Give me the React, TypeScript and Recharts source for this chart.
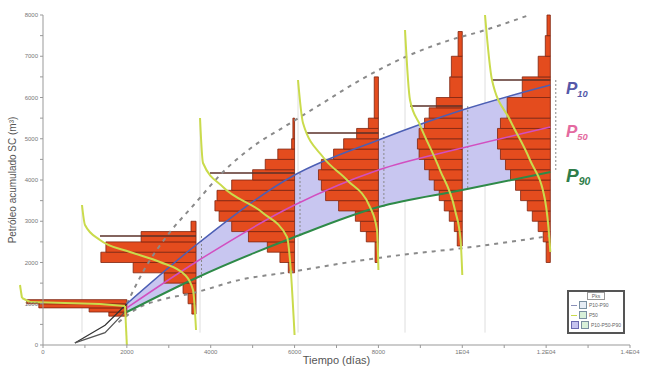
import React from "react";
import {
  Area,
  ComposedChart,
  Line,
  ReferenceArea,
  ReferenceLine,
  XAxis,
  YAxis,
} from "recharts";

// forecast times (days) and percentile values (m3)
const anchorDays = [2000, 3650, 6000, 8000, 10000, 12100];
const p10 = [1000, 2424, 4121, 4970, 5697, 6303];
const p50 = [900, 2012, 3394, 4242, 4776, 5285];
const p90 = [800, 1624, 2618, 3345, 3758, 4194];

// history before the first forecast
const historyDays = [760, 1480, 2000];
const historyHigh = [50, 480, 1000];
const historyLow = [50, 300, 850];

// outer envelopes (dashed)
const upperEnvelope = [
  [2000, 1000], [2400, 1800], [3000, 2700], [3600, 3400], [4300, 4200],
  [4900, 4730], [5900, 5380], [6600, 5820], [7560, 6420], [8750, 7030],
  [9700, 7390], [10400, 7590], [11600, 8000],
];
const lowerEnvelope = [
  [1800, 550], [2310, 920], [2790, 1090], [3580, 1260], [4700, 1580],
  [5890, 1770], [7320, 2010], [8520, 2180], [10020, 2350], [12070, 2640],
];

// histogram bins: [low, high, width in days]
const hist0 = [[700, 800, 430], [800, 900, 900], [900, 1000, 2100], [1000, 1100, 2390]];
const histA = [
  [750, 1000, 100], [1000, 1250, 190], [1250, 1500, 310], [1500, 1750, 760],
  [1750, 2000, 1500], [2000, 2250, 2270], [2250, 2500, 2150], [2500, 2750, 1310],
  [2750, 3000, 120],
];
const histB = [
  [1750, 2000, 150], [2000, 2250, 350], [2250, 2500, 650], [2500, 2750, 1100],
  [2750, 3000, 1500], [3000, 3250, 1800], [3250, 3500, 1900], [3500, 3750, 1850],
  [3750, 4000, 1500], [4000, 4250, 1000], [4250, 4500, 700], [4500, 4750, 400],
  [4750, 5000, 70], [5000, 5500, 40],
];
const histC = [
  [2000, 2500, 80], [2500, 2750, 290], [2750, 3000, 430], [3000, 3250, 550],
  [3250, 3500, 950], [3500, 3750, 1260], [3750, 4000, 1360], [4000, 4250, 1430],
  [4250, 4500, 1360], [4500, 4750, 1070], [4750, 5000, 830], [5000, 5250, 520],
  [5250, 5500, 240], [5500, 6500, 100],
];
const histD = [
  [2400, 2750, 120], [2750, 3000, 190], [3000, 3250, 310], [3250, 3500, 430],
  [3500, 3750, 550], [3750, 4000, 670], [4000, 4250, 790], [4250, 4500, 900],
  [4500, 4750, 1030], [4750, 5000, 1070], [5000, 5250, 1030], [5250, 5500, 900],
  [5500, 5750, 790], [5750, 6000, 620], [6000, 6500, 300], [6500, 7000, 260],
  [7000, 7600, 100],
];
const histE = [
  [2000, 2500, 100], [2500, 2750, 170], [2750, 3000, 290], [3000, 3250, 430],
  [3250, 3500, 550], [3500, 3750, 710], [3750, 4000, 830], [4000, 4250, 950],
  [4250, 4500, 1070], [4500, 4750, 1190], [4750, 5000, 1260], [5000, 5250, 1260],
  [5250, 5500, 1190], [5500, 6000, 1030], [6000, 6500, 670], [6500, 7000, 290],
  [7000, 7500, 120], [7500, 8000, 80],
];
const histograms = [hist0, histA, histB, histC, histD, histE];

// cumulative curves drawn beside each histogram: [days, m3]
const cdf0 = [[-549, 1454], [-501, 1139], [-310, 1042], [1359, 994], [1956, 945], [2000, 0]];
const cdfA = [[930, 3394], [1002, 2909], [1359, 2545], [2075, 2254], [2790, 2012], [3387, 1697], [3578, 1333], [3650, 364]];
const cdfB = [[3745, 5503], [3816, 4412], [4293, 3830], [5247, 3200], [5819, 2618], [5891, 2060], [6000, 242]];
const cdfC = [[6082, 6424], [6201, 5381], [6678, 4557], [7250, 4000], [7799, 3345], [7966, 2788], [8000, 1818]];
const cdfD = [[8634, 7636], [8753, 5939], [8991, 5333], [9468, 4242], [9826, 3273], [9960, 2545], [10000, 1697]];
const cdfE = [[10542, 8000], [10709, 6424], [11138, 5454], [11615, 4485], [11973, 3515], [12080, 2545], [12100, 2254]];
const cdfCurves = [cdfA, cdfB, cdfC, cdfD, cdfE];

// dark level marks on top of each histogram: [from, to, m3]
const levelMarks = [
  [1359, 3650, 2642], [3983, 6000, 4170], [6296, 8000, 5139],
  [8753, 10000, 5793], [10709, 12100, 6424],
];

const xTicks = [0, 1000, 2000, 3000, 4000, 5000, 6000, 7000, 8000, 9000, 10000, 11000, 12000, 13000, 14000];
const xLabels = { 0: "0", 2000: "2000", 4000: "4000", 6000: "6000", 8000: "8000", 10000: "1E04", 12000: "1.2E04", 14000: "1.4E04" };
const yTicks = [0, 500, 1000, 1500, 2000, 2500, 3000, 3500, 4000, 4500, 5000, 5500, 6000, 6500, 7000, 7500, 8000];

const toPoints = (pts) => pts.map(([x, y]) => ({ x, y }));
const series = (days, vals) => days.map((x, i) => ({ x, y: vals[i] }));

const bandData = anchorDays.map((x, i) => ({ x, band: [p90[i], p10[i]] }));

const BAR_FILL = "#e44c1e";
const BAR_STROKE = "#7d2410";
const CDF_COLOR = "#cadb4c";
const font = "'Liberation Sans', Arial, sans-serif";

function PLabel({ top, color, sub, size }) {
  return (
    <div
      style={{
        position: "absolute",
        left: 566,
        top,
        color,
        fontFamily: font,
        fontWeight: "bold",
        fontStyle: "italic",
        fontSize: size,
        lineHeight: 1,
      }}
    >
      P<span style={{ fontSize: size * 0.55, verticalAlign: "-0.3em" }}>{sub}</span>
    </div>
  );
}

function LegendBox() {
  const row = { display: "flex", alignItems: "center", height: 10, gap: 2, whiteSpace: "nowrap" };
  const box = (bg) => ({ width: 6, height: 6, flex: "none", border: "1px solid #7a8fa0", background: bg });
  return (
    <div
      style={{
        position: "absolute",
        left: 567,
        top: 290,
        width: 58,
        height: 44,
        border: "2px solid #555",
        background: "#fff",
        fontFamily: font,
        fontSize: 5,
        color: "#666",
        padding: "1px 2px",
        boxSizing: "border-box",
        overflow: "hidden",
      }}
    >
      <div style={{ textAlign: "center", marginBottom: 1 }}>
        <span style={{ border: "1px solid #999", padding: "0 4px" }}>Pks</span>
      </div>
      <div style={row}>
        <div style={{ width: 6, height: 1, flex: "none", background: "#8a90b8" }} />
        <div style={box("#e6ecf4")} />
        <span>P10-P90</span>
      </div>
      <div style={row}>
        <div style={{ width: 6, height: 1, flex: "none", background: CDF_COLOR }} />
        <div style={box("#d8f0d8")} />
        <span>P50</span>
      </div>
      <div style={row}>
        <div style={{ width: 6, height: 6, flex: "none", background: "#c5c3ee", border: "1px solid #6a6ab0" }} />
        <div style={box("#d8f0d8")} />
        <span>P10-P50-P90</span>
      </div>
    </div>
  );
}

export default function App() {
  return (
    <div style={{ position: "absolute", left: 0, top: 0, width: 647, height: 373, background: "#fff" }}>
      <ComposedChart width={647} height={373} margin={{ top: 15, right: 17, bottom: 0, left: 0 }}>
        <XAxis
          type="number"
          dataKey="x"
          domain={[0, 14000]}
          ticks={xTicks}
          tickFormatter={(v) => xLabels[v] || ""}
          tick={{ fontSize: 6, fill: "#777", fontFamily: font }}
          tickSize={3}
          stroke="#999"
          height={28}
          label={{ value: "Tiempo (días)", position: "insideBottom", offset: 9, style: { fontSize: 11, fill: "#555", fontFamily: font } }}
        />
        <YAxis
          type="number"
          dataKey="y"
          domain={[0, 8000]}
          ticks={yTicks}
          tickFormatter={(v) => (v % 1000 === 0 ? String(v) : "")}
          tick={{ fontSize: 6, fill: "#777", fontFamily: font }}
          tickSize={3}
          stroke="#999"
          width={43}
          label={{ value: "Petróleo acumulado SC (m³)", angle: -90, position: "insideLeft", offset: 12, style: { fontSize: 10, fill: "#555", fontFamily: font, textAnchor: "middle" } }}
        />

        {cdfCurves.map((c, i) => (
          <ReferenceLine
            key={"g" + i}
            segment={[{ x: c[0][0], y: c[0][1] }, { x: c[0][0], y: 300 }]}
            stroke="#dedede"
            strokeWidth={1}
            ifOverflow="visible"
            zIndex={40}
          />
        ))}

        <Area
          data={bandData}
          dataKey="band"
          type="monotone"
          fill="#c8c6f0"
          fillOpacity={1}
          stroke="none"
          isAnimationActive={false}
          zIndex={50}
        />

        {histograms.map((bins, h) =>
          bins.map(([lo, hi, w], i) => (
            <ReferenceArea
              key={h + "-" + i}
              x1={anchorDays[h] - w}
              x2={anchorDays[h]}
              y1={lo}
              y2={hi}
              fill={BAR_FILL}
              fillOpacity={1}
              stroke={BAR_STROKE}
              strokeWidth={0.8}
              ifOverflow="visible"
              zIndex={60}
            />
          ))
        )}

        {levelMarks.map(([a, b, y], i) => (
          <ReferenceLine
            key={"m" + i}
            segment={[{ x: a, y }, { x: b, y }]}
            stroke="#5a3028"
            strokeWidth={1.5}
            ifOverflow="visible"
            zIndex={65}
          />
        ))}

        {anchorDays.slice(1).map((x, i) => (
          <ReferenceLine
            key={"s" + i}
            segment={[{ x: x + 130, y: levelMarks[i][2] }, { x: x + 130, y: p90[i + 1] }]}
            stroke="#888"
            strokeDasharray="2 2"
            strokeWidth={1}
            ifOverflow="visible"
            zIndex={65}
          />
        ))}

        <Line data={series(historyDays, historyHigh)} dataKey="y" stroke="#333" strokeWidth={1.2} dot={false} activeDot={false} isAnimationActive={false} zIndex={70} />
        <Line data={series(historyDays, historyLow)} dataKey="y" stroke="#555" strokeWidth={1.2} dot={false} activeDot={false} isAnimationActive={false} zIndex={70} />

        <Line data={toPoints(upperEnvelope)} dataKey="y" type="monotone" stroke="#8a8a8a" strokeWidth={2} strokeDasharray="4 5" dot={false} activeDot={false} isAnimationActive={false} zIndex={70} />
        <Line data={toPoints(lowerEnvelope)} dataKey="y" type="monotone" stroke="#8a8a8a" strokeWidth={2} strokeDasharray="4 5" dot={false} activeDot={false} isAnimationActive={false} zIndex={70} />

        <Line data={series(anchorDays, p10)} dataKey="y" type="monotone" stroke="#4c5fb4" strokeWidth={1.5} dot={false} activeDot={false} isAnimationActive={false} zIndex={75} />
        <Line data={series(anchorDays, p50)} dataKey="y" type="monotone" stroke="#d24fc0" strokeWidth={1.5} dot={false} activeDot={false} isAnimationActive={false} zIndex={75} />
        <Line data={series(anchorDays, p90)} dataKey="y" type="monotone" stroke="#2e8a48" strokeWidth={2} dot={false} activeDot={false} isAnimationActive={false} zIndex={75} />

        {cdf0.slice(1).map(([x, y], i) => (
          <ReferenceLine
            key={"c0" + i}
            segment={[{ x: cdf0[i][0], y: cdf0[i][1] }, { x, y }]}
            stroke={CDF_COLOR}
            strokeWidth={2}
            ifOverflow="visible"
            zIndex={80}
          />
        ))}
        {cdfCurves.map((c, i) => (
          <Line
            key={"c" + i}
            data={toPoints(c)}
            dataKey="y"
            type="monotone"
            stroke={CDF_COLOR}
            strokeWidth={2}
            dot={false}
            activeDot={false}
            isAnimationActive={false}
            zIndex={80}
          />
        ))}
      </ComposedChart>

      <PLabel top={80} color="#5558a8" sub="10" size={17} />
      <PLabel top={123} color="#e46aa0" sub="50" size={17} />
      <PLabel top={166} color="#2f7d4a" sub="90" size={19} />
      <LegendBox />
    </div>
  );
}
